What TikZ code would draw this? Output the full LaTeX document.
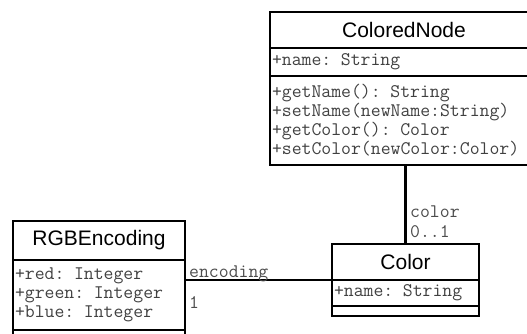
\documentclass[tikz,border=0pt]{standalone}
\usepackage{fontspec}
\newfontfamily\umlsans{Liberation Sans}
\usetikzlibrary{positioning}

\begin{document}
\begin{tikzpicture}[
    x=1pt, y=-1pt,
    classname/.style={
        draw,
        line width=2.2pt,
        outer sep=0pt,
        font=\umlsans\fontsize{21}{24}\selectfont,
        align=center,
        inner sep=0pt
    },
    members/.style={
        draw,
        line width=2.2pt,
        outer sep=0pt,
        font=\ttfamily\fontsize{19.2}{19}\selectfont,
        text=black!75,
        align=left,
        inner xsep=2pt,
        inner ysep=0pt
    },
    role/.style={
        font=\ttfamily\fontsize{19.2}{19}\selectfont,
        text=black!70,
        inner sep=0pt
    },
    assoc/.style={
        line width=2.2pt
    }
]
    \clip (0,0) rectangle (527,333);
    \useasboundingbox (0,0) rectangle (527,333);

    % ColoredNode class
    \node[classname, anchor=north west, minimum width=268pt, minimum height=36pt] (cnname) at (270,12) {ColoredNode};
    \node[members, below=0pt of cnname, text width=264pt, minimum height=28pt] (cnattr) {+name: String};
    \node[members, below=0pt of cnattr, text width=264pt, minimum height=89pt] (cnops)
        {+getName(): String\\+setName(newName:String)\\+getColor(): Color\\+setColor(newColor:Color)};

    % Color class
    \node[classname, anchor=north west, minimum width=147pt, minimum height=36pt] (colname) at (332,244) {Color};
    \node[members, below=0pt of colname, text width=143pt, minimum height=26pt] (colattr) {+name: String};
    \node[members, below=0pt of colattr, minimum width=147pt, minimum height=10pt] (colops) {};

    % RGBEncoding class
    \node[classname, anchor=north west, minimum width=172pt, minimum height=39pt] (rgbname) at (13,221) {RGBEncoding};
    \node[members, below=0pt of rgbname, text width=168pt, minimum height=70pt] (rgbattr)
        {+red: Integer\\+green: Integer\\+blue: Integer};
    \node[members, below=0pt of rgbattr, minimum width=172pt, minimum height=20pt] (rgbops) {};

    % Associations
    \draw[assoc] (cnops.south -| colname.north) -- (colname.north);
    \draw[assoc] (colname.south west) -- (colname.south west -| rgbname.east);

    % Role names and multiplicities
    \node[role, anchor=base west] (colrole) at (410,217) {color};
    \node[role, anchor=base west] (colmult) at (410,237) {0..1};
    \node[role, anchor=base west] (encrole) at (189,277) {encoding};
    \node[role, anchor=base west] (encmult) at (189,308) {1};
\end{tikzpicture}
\end{document}
